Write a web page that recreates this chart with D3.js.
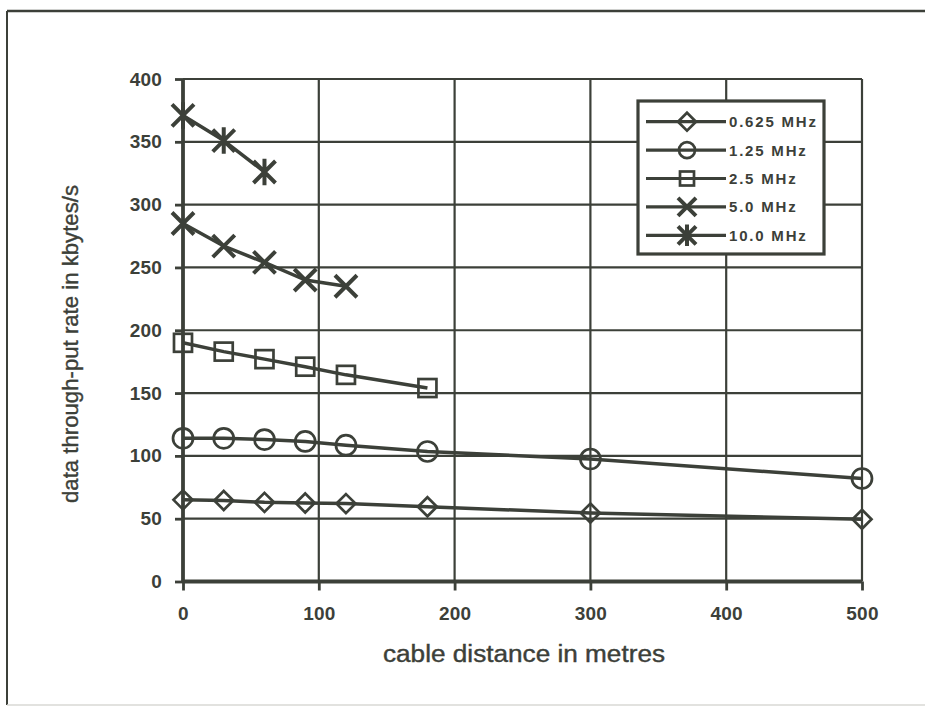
<!DOCTYPE html>
<html>
<head>
<meta charset="utf-8">
<script src="https://cdn.jsdelivr.net/npm/d3@7/dist/d3.min.js"></script>
<style>
  html, body { margin: 0; padding: 0; background: #ffffff; }
  svg { display: block; }
</style>
</head>
<body>
<svg id="chart" width="925" height="711"></svg>
<script>
// ---- data ----
const seriesNames = ["0.625 MHz", "1.25 MHz", "2.5 MHz", "5.0 MHz", "10.0 MHz"];
const markerTypes = ["diamond", "circle", "square", "cross", "asterisk"];
const dist0625 = [0, 30, 60, 90, 120, 180, 300, 500];
const rate0625 = [65, 64.5, 63, 62.5, 62, 59.5, 54.5, 49.5];
const dist125 = [0, 30, 60, 90, 120, 180, 300, 500];
const rate125 = [114, 114, 113, 111.5, 108.5, 103.5, 97.5, 82];
const dist25 = [0, 30, 60, 90, 120, 180];
const rate25 = [190, 183, 177, 171, 164.5, 154];
const dist5 = [0, 30, 60, 90, 120];
const rate5 = [285, 267, 254, 240, 235];
const dist10 = [0, 30, 60];
const rate10 = [371, 351, 326];
const xTicks = [0, 100, 200, 300, 400, 500];
const yTicks = [0, 50, 100, 150, 200, 250, 300, 350, 400];
const xTitle = "cable distance in metres";
const yTitle = "data through-put rate in kbytes/s";

const series = [
  { name: seriesNames[0], marker: markerTypes[0], pts: dist0625.map((d, i) => [d, rate0625[i]]) },
  { name: seriesNames[1], marker: markerTypes[1], pts: dist125.map((d, i) => [d, rate125[i]]) },
  { name: seriesNames[2], marker: markerTypes[2], pts: dist25.map((d, i) => [d, rate25[i]]) },
  { name: seriesNames[3], marker: markerTypes[3], pts: dist5.map((d, i) => [d, rate5[i]]) },
  { name: seriesNames[4], marker: markerTypes[4], pts: dist10.map((d, i) => [d, rate10[i]]) }
];

// ---- layout ----
const ink = "#3c4039";
const svg = d3.select("#chart");
const pLeft = 183, pRight = 862, pTop = 79, pBottom = 581.5;
const x = d3.scaleLinear().domain([0, 500]).range([pLeft, pRight]);
const y = d3.scaleLinear().domain([0, 400]).range([pBottom, pTop]);

// frame
svg.append("line").attr("x1", 7).attr("x2", 925).attr("y1", 11).attr("y2", 11)
  .attr("stroke", ink).attr("stroke-width", 2.5);
svg.append("line").attr("x1", 7).attr("x2", 7).attr("y1", 11).attr("y2", 705)
  .attr("stroke", ink).attr("stroke-width", 2);
svg.append("line").attr("x1", 7).attr("x2", 925).attr("y1", 705).attr("y2", 705)
  .attr("stroke", "#d8d8d4").attr("stroke-width", 1.5);

// gridlines
const grid = svg.append("g");
grid.selectAll("line.h").data(yTicks.filter(v => v > 0)).enter().append("line")
  .attr("x1", pLeft).attr("x2", pRight)
  .attr("y1", d => y(d)).attr("y2", d => y(d))
  .attr("stroke", ink).attr("stroke-width", 2.2);
grid.selectAll("line.v").data(xTicks.filter(v => v > 0)).enter().append("line")
  .attr("y1", pTop).attr("y2", pBottom)
  .attr("x1", d => x(d)).attr("x2", d => x(d))
  .attr("stroke", ink).attr("stroke-width", 2.2);

// axes
const tickFont = "'Liberation Sans', Arial, sans-serif";
const yAxis = svg.append("g").attr("transform", `translate(${pLeft},0)`)
  .call(d3.axisLeft(y).tickValues(yTicks).tickSize(8).tickPadding(13).tickFormat(d3.format("d")));
const xAxis = svg.append("g").attr("transform", `translate(0,${pBottom})`)
  .call(d3.axisBottom(x).tickValues(xTicks).tickSize(9).tickPadding(16).tickFormat(d3.format("d")));
[yAxis, xAxis].forEach(ax => {
  ax.select(".domain").remove();
  ax.selectAll(".tick line").attr("stroke", ink).attr("stroke-width", 2.8);
  ax.selectAll(".tick text").attr("fill", ink)
    .style("font-family", tickFont).style("font-weight", "bold").style("font-size", "19px")
    .style("letter-spacing", "0.2px");
});
// axis lines
svg.append("line").attr("x1", pLeft).attr("x2", pLeft).attr("y1", pTop).attr("y2", pBottom + 1)
  .attr("stroke", ink).attr("stroke-width", 3.8);
svg.append("line").attr("x1", pLeft).attr("x2", pRight).attr("y1", pBottom).attr("y2", pBottom)
  .attr("stroke", ink).attr("stroke-width", 3.8);

// markers
function drawMarker(g, type, cx, cy, s) {
  const st = { stroke: ink, "stroke-width": 2.7, fill: "none" };
  let el;
  if (type === "diamond") {
    el = g.append("path").attr("d", `M${cx},${cy - s}L${cx + s},${cy}L${cx},${cy + s}L${cx - s},${cy}Z`);
  } else if (type === "circle") {
    el = g.append("circle").attr("cx", cx).attr("cy", cy).attr("r", s);
  } else if (type === "square") {
    el = g.append("rect").attr("x", cx - s).attr("y", cy - s).attr("width", 2 * s).attr("height", 2 * s);
  } else if (type === "cross") {
    el = g.append("path").attr("d", `M${cx - s},${cy - s}L${cx + s},${cy + s}M${cx - s},${cy + s}L${cx + s},${cy - s}`);
    st["stroke-width"] = 4;
  } else {
    el = g.append("path").attr("d",
      `M${cx - s},${cy - s}L${cx + s},${cy + s}M${cx - s},${cy + s}L${cx + s},${cy - s}M${cx},${cy - s * 1.2}L${cx},${cy + s * 1.2}`);
    st["stroke-width"] = 4;
  }
  Object.entries(st).forEach(([k, v]) => el.attr(k, v));
}
const markerSize = { diamond: 9.5, circle: 10, square: 9, cross: 11, asterisk: 11 };

// series lines + markers
const line = d3.line().x(d => x(d[0])).y(d => y(d[1]));
series.forEach(s => {
  const g = svg.append("g");
  g.append("path").datum(s.pts).attr("d", line)
    .attr("fill", "none").attr("stroke", ink).attr("stroke-width", 3.5).attr("stroke-linejoin", "round");
  s.pts.forEach(p => drawMarker(g, s.marker, x(p[0]), y(p[1]), markerSize[s.marker]));
});

// legend
const lg = svg.append("g");
lg.append("rect").attr("x", 638).attr("y", 101).attr("width", 186).attr("height", 153)
  .attr("fill", "#ffffff").attr("stroke", ink).attr("stroke-width", 3.2);
series.forEach((s, i) => {
  const ry = 121.7 + i * 28.4;
  lg.append("line").attr("x1", 646).attr("x2", 726).attr("y1", ry).attr("y2", ry)
    .attr("stroke", ink).attr("stroke-width", 3.2);
  const ms = s.marker === "square" ? 7 : (s.marker === "circle" ? 8 : 9);
  drawMarker(lg, s.marker, 687, ry, ms);
  lg.append("text").attr("x", 729).attr("y", ry).attr("dy", "0.36em")
    .attr("fill", ink).style("font-family", tickFont).style("font-weight", "bold")
    .style("font-size", "15px").style("letter-spacing", "1.8px").text(s.name);
});

// axis titles
svg.append("text").attr("x", 524).attr("y", 662).attr("text-anchor", "middle")
  .attr("fill", ink).style("font-family", "'Liberation Sans', Arial, sans-serif")
  .style("font-size", "23px").style("stroke", ink).style("stroke-width", "0.4px")
  .attr("textLength", 282).attr("lengthAdjust", "spacingAndGlyphs")
  .text(xTitle);
svg.append("text").attr("transform", "translate(78,344) rotate(-90)").attr("text-anchor", "middle")
  .attr("fill", ink).style("font-family", "'Liberation Sans Narrow', 'Liberation Sans', Arial, sans-serif")
  .style("font-size", "22px").style("stroke", ink).style("stroke-width", "0.4px")
  .attr("textLength", 318).attr("lengthAdjust", "spacingAndGlyphs")
  .text(yTitle);
</script>
</body>
</html>
